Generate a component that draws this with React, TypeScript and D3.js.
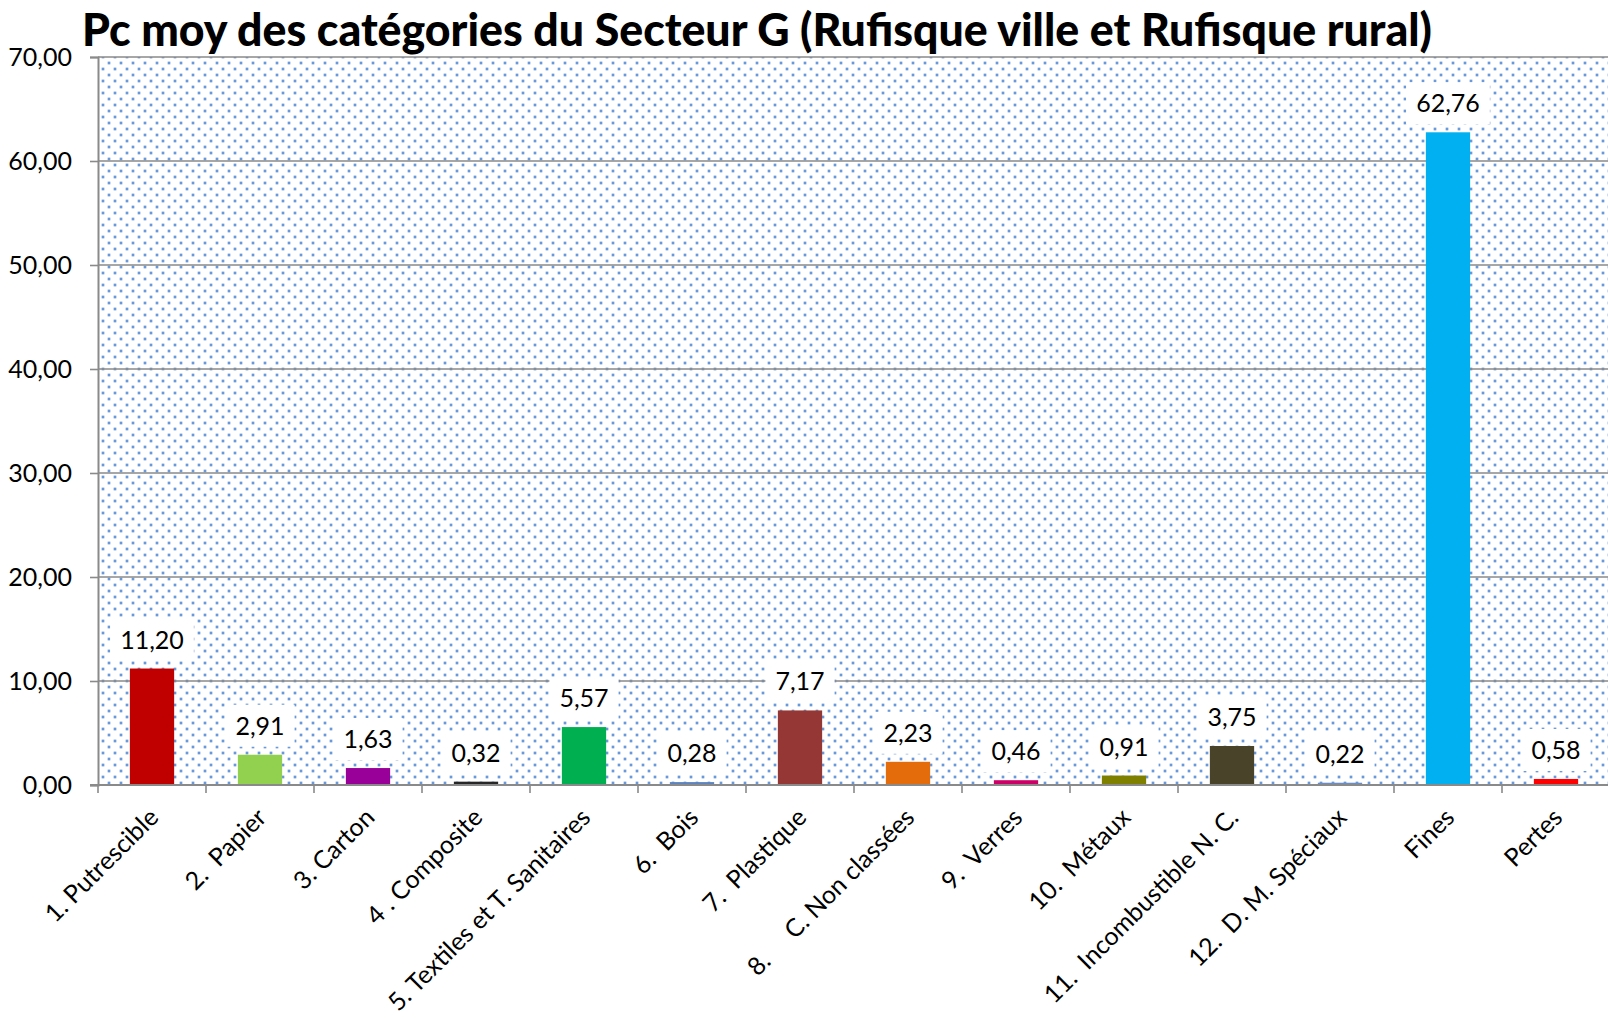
import React, { useRef, useEffect } from 'react';
import * as d3 from 'd3';

const categories = [
  '1. Putrescible',
  '2.  Papier',
  '3. Carton',
  '4 . Composite',
  '5. Textiles et T. Sanitaires',
  '6.  Bois',
  '7.  Plastique',
  '8.     C. Non classées',
  '9.  Verres',
  '10.  Métaux',
  '11.  Incombustible N. C.',
  '12.  D. M. Spéciaux',
  'Fines',
  'Pertes',
];

const values = [11.2, 2.91, 1.63, 0.32, 5.57, 0.28, 7.17, 2.23, 0.46, 0.91, 3.75, 0.22, 62.76, 0.58];

const barColors = [
  '#C00000', '#92D050', '#990099', '#262626', '#00B050', '#5B84C0', '#953735',
  '#E46C0A', '#CC0066', '#7F7F00', '#494429', '#6A8FC6', '#00B0F0', '#FF0000',
];

const yTicks = [0, 10, 20, 30, 40, 50, 60, 70];

const TITLE = 'Pc moy des catégories du Secteur G (Rufisque ville et Rufisque rural)';
const FONT = 'Lato, "Open Sans", sans-serif';

const fmt = (v: number) => v.toFixed(2).replace('.', ',');

const App: React.FC = () => {
  const svgRef = useRef<SVGSVGElement>(null);

  useEffect(() => {
    if (!svgRef.current) return;
    const svg = d3.select(svgRef.current);
    svg.selectAll('*').remove();

    const W = 1608;
    const H = 1018;
    const margin = { top: 57, right: -2, bottom: H - 785, left: 98 };
    const width = W - margin.left - margin.right;
    const height = H - margin.top - margin.bottom;

    svg.attr('width', W).attr('height', H);

    // dotted background pattern
    const defs = svg.append('defs');
    const pat = defs.append('pattern')
      .attr('id', 'dots')
      .attr('patternUnits', 'userSpaceOnUse')
      .attr('width', 12)
      .attr('height', 12)
      .attr('x', margin.left)
      .attr('y', margin.top);
    pat.append('rect').attr('width', 12).attr('height', 12).attr('fill', '#ffffff');
    [[3, 3], [9, 9]].forEach(([cx, cy]) => {
      pat.append('circle').attr('cx', cx).attr('cy', cy).attr('r', 2).attr('fill', '#cddcf3');
      pat.append('circle').attr('cx', cx).attr('cy', cy).attr('r', 1.2).attr('fill', '#6797d8');
    });

    const g = svg.append('g').attr('transform', `translate(${margin.left},${margin.top})`);

    const x = d3.scaleBand<string>()
      .domain(categories)
      .range([0, width])
      .paddingInner(0.59)
      .paddingOuter(0.295);

    const band = d3.scaleBand<string>().domain(categories).range([0, width]);

    const y = d3.scaleLinear().domain([0, 70]).range([height, 0]);

    g.append('rect')
      .attr('width', width)
      .attr('height', height)
      .attr('fill', 'url(#dots)');

    // gridlines
    g.selectAll('.grid')
      .data(yTicks.filter(t => t > 0))
      .enter()
      .append('line')
      .attr('x1', 0)
      .attr('x2', width)
      .attr('y1', d => y(d))
      .attr('y2', d => y(d))
      .attr('stroke', '#8a8a8a')
      .attr('stroke-width', 1.6);

    // bars
    g.selectAll('.bar')
      .data(values)
      .enter()
      .append('rect')
      .attr('x', (d, i) => x(categories[i])!)
      .attr('width', x.bandwidth())
      .attr('y', d => y(d))
      .attr('height', d => height - y(d))
      .attr('fill', (d, i) => barColors[i]);

    // y axis
    const yAxis = d3.axisLeft(y).tickValues(yTicks).tickSize(8).tickPadding(18).tickFormat(d => fmt(d as number));
    const ya = g.append('g').call(yAxis);
    ya.select('.domain').attr('stroke', '#8a8a8a').attr('stroke-width', 2);
    ya.selectAll('.tick line').attr('stroke', '#8a8a8a').attr('stroke-width', 1.6);
    ya.selectAll('.tick text')
      .attr('font-family', FONT)
      .attr('font-size', 25)
      .attr('fill', '#000');

    // x axis line + ticks at band boundaries
    g.append('line')
      .attr('x1', -8).attr('x2', width)
      .attr('y1', height).attr('y2', height)
      .attr('stroke', '#8a8a8a').attr('stroke-width', 2);
    g.selectAll('.xtick')
      .data(categories)
      .enter()
      .append('line')
      .attr('x1', d => band(d)!)
      .attr('x2', d => band(d)!)
      .attr('y1', height)
      .attr('y2', height + 8)
      .attr('stroke', '#8a8a8a')
      .attr('stroke-width', 1.6);

    // x labels
    g.selectAll('.xlabel')
      .data(categories)
      .enter()
      .append('text')
      .attr('transform', d => `translate(${band(d)! + band.bandwidth() / 2 + 8},${height + 34}) rotate(-45)`)
      .attr('text-anchor', 'end')
      .attr('font-family', FONT)
      .attr('font-size', 25)
      .attr('fill', '#000')
      .style('white-space', 'pre')
      .text(d => d);

    // data labels with white boxes
    const labels = g.selectAll('.dl')
      .data(values)
      .enter()
      .append('g')
      .attr('transform', (d, i) => `translate(${x(categories[i])! + x.bandwidth() / 2},${y(d) - 8})`);
    const boxes = labels.append('rect').attr('fill', '#fff');
    const texts = labels.append('text')
      .attr('text-anchor', 'middle')
      .attr('y', -12)
      .attr('font-family', FONT)
      .attr('font-size', 25)
      .attr('fill', '#000')
      .text(d => fmt(d));
    texts.each(function (d, i) {
      const w = (this as SVGTextElement).getComputedTextLength() + 20;
      d3.select(boxes.nodes()[i])
        .attr('x', -w / 2)
        .attr('width', w)
        .attr('y', -42)
        .attr('height', 42);
    });

    // title
    svg.append('text')
      .attr('x', 82)
      .attr('y', 46)
      .attr('font-family', FONT)
      .attr('font-weight', 900)
      .attr('font-size', 46)
      .attr('fill', '#000')
      .attr('textLength', 1350)
      .attr('lengthAdjust', 'spacingAndGlyphs')
      .text(TITLE);
  }, []);

  return (
    <div style={{ position: 'absolute', left: 0, top: 0, width: 1608, height: 1018, background: '#fff' }}>
      <svg ref={svgRef} style={{ display: 'block' }}></svg>
    </div>
  );
};

export default App;
